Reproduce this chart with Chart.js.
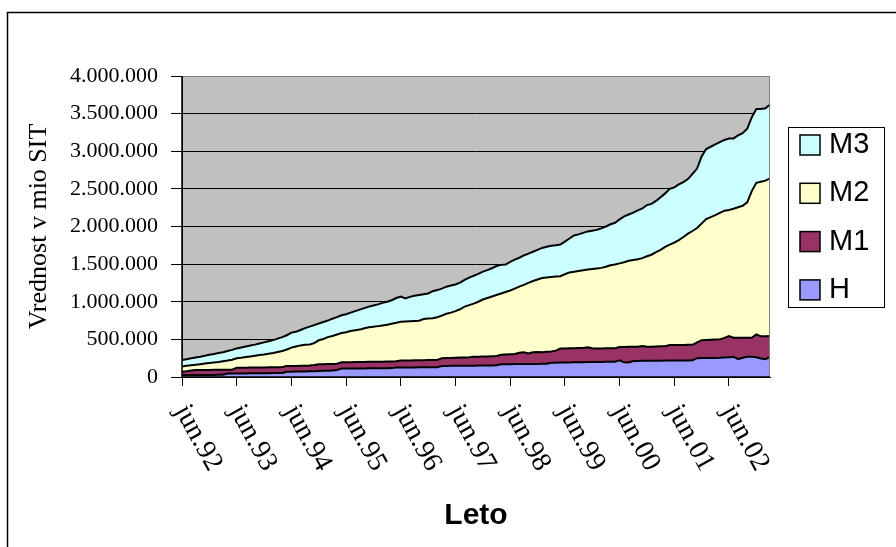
<!DOCTYPE html>
<html>
<head>
<meta charset="utf-8">
<style>
  html, body { margin: 0; padding: 0; background: #fff; }
  #wrap { width: 896px; height: 547px; position: relative; }
</style>
<script src="https://cdn.jsdelivr.net/npm/chart.js@4/dist/chart.umd.min.js"></script>
</head>
<body>
<div id="wrap"><canvas id="c" width="896" height="547"></canvas></div>
<script>
// Monthly monetary aggregates, June 1992 – March 2003 (mio SIT)
const monthNames = ['jan','feb','mar','apr','maj','jun','jul','avg','sep','okt','nov','dec'];
const startYear = 1992;
const startMonth = 5; // June
const monthCount = 130;

const seriesH = [
  25000, 25000, 26000, 26000, 27000, 27000, 28000, 28000, 29000, 30000, 46000, 47000,
  47000, 48000, 48000, 49000, 49000, 50000, 50000, 51000, 52000, 53000, 54000, 70000,
  71000, 72000, 73000, 74000, 76000, 78000, 80000, 82000, 84000, 88000, 92000, 112000,
  112000, 113000, 113000, 114000, 114000, 115000, 115000, 116000, 116000, 117000, 118000, 125000,
  126000, 126000, 127000, 127000, 128000, 128000, 129000, 130000, 131000, 146000, 147000, 148000,
  148000, 149000, 150000, 150000, 151000, 152000, 152000, 153000, 154000, 155000, 170000, 170000,
  171000, 172000, 172000, 173000, 173000, 174000, 174000, 175000, 176000, 190000, 191000, 192000,
  193000, 194000, 195000, 196000, 197000, 198000, 199000, 200000, 200000, 201000, 202000, 202000,
  222000, 195000, 192000, 212000, 214000, 215000, 215000, 216000, 216000, 217000, 218000, 218000,
  219000, 219000, 220000, 220000, 221000, 250000, 251000, 252000, 253000, 254000, 255000, 258000,
  262000, 270000, 238000, 255000, 268000, 270000, 262000, 245000, 236000, 268000
];

const seriesM1 = [
  70000, 78000, 88000, 92000, 92000, 93000, 94000, 95000, 95000, 96000, 97000, 98000,
  122000, 123000, 124000, 125000, 125000, 126000, 127000, 128000, 129000, 130000, 132000, 145000,
  146000, 147000, 148000, 150000, 152000, 158000, 168000, 170000, 172000, 174000, 176000, 195000,
  196000, 197000, 198000, 199000, 200000, 201000, 202000, 203000, 204000, 205000, 206000, 208000,
  218000, 219000, 220000, 221000, 222000, 224000, 225000, 226000, 227000, 250000, 252000, 254000,
  256000, 258000, 260000, 262000, 268000, 270000, 272000, 274000, 276000, 278000, 295000, 300000,
  302000, 305000, 322000, 330000, 312000, 330000, 332000, 330000, 334000, 338000, 350000, 378000,
  380000, 382000, 383000, 384000, 386000, 396000, 382000, 380000, 380000, 381000, 382000, 382000,
  398000, 400000, 401000, 402000, 403000, 412000, 402000, 402000, 405000, 408000, 410000, 425000,
  425000, 426000, 426000, 427000, 428000, 460000, 490000, 492000, 495000, 498000, 500000, 520000,
  545000, 522000, 520000, 520000, 520000, 522000, 566000, 540000, 542000, 545000
];

const seriesM2 = [
  140000, 148000, 155000, 162000, 170000, 178000, 185000, 193000, 200000, 210000, 218000, 230000,
  248000, 255000, 265000, 273000, 282000, 292000, 300000, 310000, 320000, 332000, 345000, 365000,
  390000, 405000, 420000, 428000, 432000, 450000, 488000, 505000, 530000, 545000, 565000, 585000,
  595000, 610000, 620000, 630000, 648000, 660000, 668000, 676000, 685000, 695000, 708000, 720000,
  735000, 738000, 742000, 745000, 748000, 770000, 778000, 782000, 795000, 815000, 840000, 855000,
  875000, 900000, 935000, 955000, 975000, 1000000, 1030000, 1050000, 1070000, 1090000, 1110000, 1130000,
  1150000, 1175000, 1200000, 1225000, 1250000, 1275000, 1295000, 1315000, 1322000, 1330000, 1335000, 1340000,
  1365000, 1390000, 1400000, 1410000, 1420000, 1428000, 1435000, 1442000, 1450000, 1465000, 1485000, 1495000,
  1510000, 1525000, 1545000, 1555000, 1565000, 1580000, 1605000, 1625000, 1660000, 1690000, 1730000, 1760000,
  1785000, 1820000, 1860000, 1905000, 1940000, 1980000, 2040000, 2100000, 2125000, 2150000, 2180000, 2210000,
  2220000, 2235000, 2255000, 2275000, 2320000, 2470000, 2580000, 2595000, 2610000, 2640000
];

const seriesM3 = [
  225000, 236000, 248000, 260000, 270000, 282000, 295000, 305000, 318000, 330000, 345000, 360000,
  380000, 392000, 405000, 418000, 430000, 445000, 460000, 475000, 490000, 510000, 530000, 555000,
  590000, 600000, 625000, 650000, 670000, 690000, 710000, 730000, 750000, 775000, 795000, 820000,
  835000, 855000, 875000, 895000, 915000, 935000, 950000, 965000, 985000, 1000000, 1020000, 1050000,
  1070000, 1045000, 1065000, 1080000, 1090000, 1100000, 1110000, 1140000, 1155000, 1175000, 1200000, 1215000,
  1230000, 1255000, 1290000, 1320000, 1345000, 1370000, 1400000, 1420000, 1445000, 1475000, 1490000, 1495000,
  1530000, 1560000, 1585000, 1615000, 1640000, 1665000, 1690000, 1715000, 1730000, 1745000, 1750000, 1760000,
  1800000, 1840000, 1880000, 1895000, 1915000, 1935000, 1945000, 1955000, 1975000, 2000000, 2030000, 2050000,
  2095000, 2135000, 2160000, 2185000, 2215000, 2240000, 2285000, 2300000, 2340000, 2390000, 2440000, 2500000,
  2520000, 2560000, 2590000, 2630000, 2700000, 2770000, 2930000, 3030000, 3060000, 3090000, 3120000, 3150000,
  3170000, 3170000, 3210000, 3240000, 3300000, 3450000, 3560000, 3560000, 3570000, 3620000
];

const seriesNames = ['H', 'M1', 'M2', 'M3'];
const seriesColors = ['#9999FF', '#993366', '#FFFFCC', '#CCFFFF'];
const legendOrder = ['M3', 'M2', 'M1', 'H'];
const yTickStep = 500000;
const yMax = 4000000;

// category labels such as "jun.92"
const monthLabels = [];
for (let k = 0; k < monthCount; k++) {
  const m = (startMonth + k) % 12;
  const y = startYear + Math.floor((startMonth + k) / 12);
  monthLabels.push(monthNames[m] + '.' + String(y % 100).padStart(2, '0'));
}

function thousands(v) {
  return String(Math.round(v)).replace(/\B(?=(\d{3})+(?!\d))/g, '.');
}

const SERIF = '"Liberation Serif", "Times New Roman", serif';
const SANS = '"Liberation Sans", Arial, sans-serif';

const decor = {
  id: 'decor',
  beforeDraw(chart) {
    const { ctx, chartArea: a } = chart;
    ctx.save();
    ctx.fillStyle = '#ffffff';
    ctx.fillRect(0, 0, chart.width, chart.height);
    ctx.fillStyle = '#C0C0C0';
    ctx.fillRect(a.left, a.top, a.right - a.left, a.bottom - a.top);
    ctx.restore();
  },
  afterDatasetsDraw(chart) {
    const { ctx, chartArea: a } = chart;
    ctx.save();
    // plot frame (top / right) in grey, axes in black
    ctx.strokeStyle = '#808080';
    ctx.lineWidth = 1;
    ctx.beginPath();
    ctx.moveTo(a.left, a.top + 0.5);
    ctx.lineTo(a.right - 0.5, a.top + 0.5);
    ctx.lineTo(a.right - 0.5, a.bottom);
    ctx.stroke();
    ctx.strokeStyle = '#000';
    ctx.lineWidth = 1.5;
    ctx.beginPath();
    ctx.moveTo(a.left, a.top);
    ctx.lineTo(a.left, a.bottom);
    ctx.lineTo(a.right, a.bottom);
    ctx.stroke();
    ctx.restore();
  },
  afterDraw(chart) {
    const { ctx } = chart;
    const xs = chart.scales.x;
    const a = chart.chartArea;
    ctx.save();

    // rotated year labels on the category axis
    ctx.fillStyle = '#000';
    ctx.font = '28px ' + SERIF;
    ctx.textAlign = 'left';
    ctx.textBaseline = 'middle';
    const angle = 61 * Math.PI / 180;
    for (let i = 0; i < monthLabels.length; i += 12) {
      const x = xs.getPixelForValue(i);
      ctx.save();
      ctx.translate(x - 1, a.bottom + 30);
      ctx.rotate(angle);
      ctx.fillText(monthLabels[i], 0, 0);
      ctx.restore();
    }

    // legend
    const lx = 788, ly = 127, lw = 96, lh = 180;
    ctx.strokeStyle = '#000';
    ctx.lineWidth = 1;
    ctx.fillStyle = '#fff';
    ctx.fillRect(lx, ly, lw, lh);
    ctx.strokeRect(lx + 0.5, ly + 0.5, lw, lh);
    ctx.font = '29px ' + SANS;
    ctx.textBaseline = 'middle';
    legendOrder.forEach((name, k) => {
      const idx = seriesNames.indexOf(name);
      const cy = 145 + k * 48.3;
      ctx.fillStyle = seriesColors[idx];
      ctx.fillRect(800, cy - 10, 20, 20);
      ctx.lineWidth = 1.5;
      ctx.strokeStyle = '#000';
      ctx.strokeRect(800, cy - 10, 20, 20);
      ctx.fillStyle = '#000';
      ctx.fillText(name, 829, cy);
    });

    // outer chart frame
    ctx.strokeStyle = '#000';
    ctx.lineWidth = 1.5;
    ctx.strokeRect(7.5, 12.5, 1000, 1000);
    ctx.restore();
  }
};

const seriesData = [seriesH, seriesM1, seriesM2, seriesM3];

new Chart(document.getElementById('c'), {
  type: 'line',
  data: {
    labels: monthLabels,
    datasets: seriesNames.map((name, k) => ({
      label: name,
      data: seriesData[k],
      backgroundColor: seriesColors[k],
      borderColor: '#000',
      borderWidth: 2,
      fill: 'origin',
      pointRadius: 0,
      tension: 0
    }))
  },
  options: {
    responsive: false,
    animation: false,
    devicePixelRatio: 1,
    layout: { padding: { top: 76, right: 126, left: 0, bottom: 0 } },
    plugins: { legend: { display: false }, tooltip: { enabled: false } },
    scales: {
      x: {
        type: 'category',
        offset: false,
        ticks: { display: false, autoSkip: false },
        grid: {
          drawOnChartArea: false,
          drawTicks: true,
          tickLength: 9,
          tickWidth: 1,
          tickColor: (c) => (c.index % 12 === 0 ? '#000' : 'rgba(0,0,0,0)')
        },
        border: { display: true, color: '#000', width: 1 },
        title: {
          display: true,
          text: 'Leto',
          color: '#000',
          font: { family: SANS, size: 30, weight: 'bold' },
          padding: { top: 0, bottom: 13 }
        },
        afterFit: (s) => { s.height = 170; }
      },
      y: {
        min: 0,
        max: yMax,
        ticks: {
          stepSize: yTickStep,
          color: '#000',
          padding: 13,
          font: { family: SERIF, size: 22 },
          callback: (v) => thousands(v)
        },
        grid: {
          color: (c) => (c.tick && c.tick.value === yMax ? '#808080' : '#000'),
          lineWidth: 1,
          tickLength: 11,
          tickColor: '#000'
        },
        border: { display: true, color: '#000', width: 1 },
        title: {
          display: true,
          text: 'Vrednost v mio SIT',
          color: '#000',
          font: { family: SERIF, size: 26 },
          padding: { top: 24, bottom: 0 }
        },
        afterFit: (s) => { s.width = 182; }
      }
    }
  },
  plugins: [decor]
});
</script>
</body>
</html>
